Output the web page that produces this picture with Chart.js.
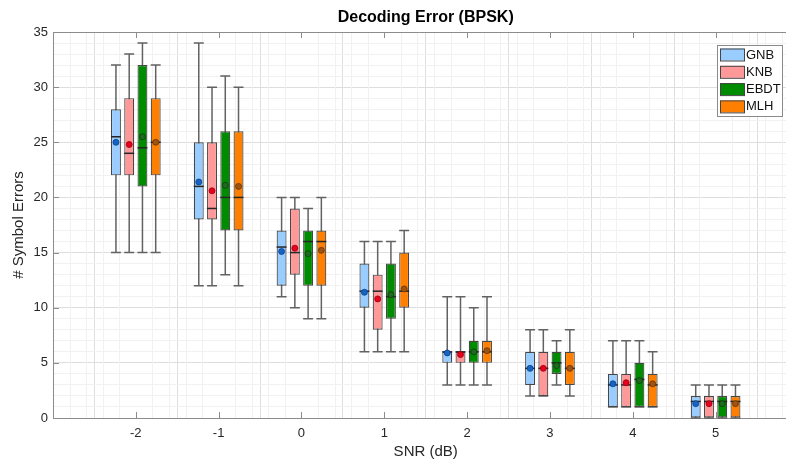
<!DOCTYPE html>
<html><head><meta charset="utf-8">
<script src="https://cdn.jsdelivr.net/npm/chart.js@4"></script>
<style>html,body{margin:0;padding:0;background:#fff;overflow:hidden}#wrap{width:786px;height:465px;position:relative}</style>
</head><body><div id="wrap"><canvas id="c" width="786" height="465"></canvas></div>
<script>
// ---- data ----
const snr = [-2, -1, 0, 1, 2, 3, 4, 5];
const seriesNames = ['GNB', 'KNB', 'EBDT', 'MLH'];

const gnbLow    = [15, 12, 11, 6, 3, 2, 1, 0];
const gnbQ1     = [22, 18, 12, 10, 5, 3, 1, 0];
const gnbMedian = [25.5, 21, 15.5, 11.5, 6, 4.5, 3, 1.5];
const gnbQ3     = [28, 25, 17, 14, 6, 6, 4, 2];
const gnbHigh   = [32, 34, 20, 16, 11, 8, 7, 3];
const gnbMean   = [25.0, 21.4, 15.1, 11.4, 5.9, 4.5, 3.1, 1.3];

const knbLow    = [15, 12, 10, 6, 3, 2, 1, 0];
const knbQ1     = [22, 18, 13, 8, 5, 2, 1, 0];
const knbMedian = [24, 19, 15, 11.5, 6, 4.5, 3, 1.5];
const knbQ3     = [29, 25, 19, 13, 6, 6, 4, 2];
const knbHigh   = [33, 30, 20, 16, 11, 8, 7, 3];
const knbMean   = [24.8, 20.6, 15.4, 10.8, 5.75, 4.5, 3.2, 1.3];

const ebdtLow    = [15, 13, 9, 6, 3, 3, 1, 0];
const ebdtQ1     = [21, 17, 12, 9, 5, 4, 1, 0];
const ebdtMedian = [24.5, 20, 16, 11, 6, 5, 3.5, 1.5];
const ebdtQ3     = [32, 26, 17, 14, 7, 6, 5, 2];
const ebdtHigh   = [34, 31, 19, 16, 10, 7, 7, 3];
const ebdtMean   = [25.5, 21.1, 14.9, 11.2, 6.0, 4.75, 3.4, 1.3];

const mlhLow    = [15, 12, 9, 6, 3, 2, 1, 0];
const mlhQ1     = [22, 17, 12, 10, 5, 3, 1, 0];
const mlhMedian = [25, 20, 16, 11.5, 6, 4.5, 3, 1.5];
const mlhQ3     = [29, 26, 17, 15, 7, 6, 4, 2];
const mlhHigh   = [32, 30, 20, 17, 11, 8, 6, 3];
const mlhMean   = [25.0, 21.0, 15.2, 11.7, 6.1, 4.5, 3.1, 1.3];

const xTickLabels = [-2, -1, 0, 1, 2, 3, 4, 5];
const yTickLabels = [0, 5, 10, 15, 20, 25, 30, 35];
const xMin = -3, xMaxVisible = 5.85, xMaxFull = 6;
const yMin = 0, yMax = 35;
const xMinorStep = 0.2;

// ---- styles ----
const fills = ['#99ccff', '#ff9999', '#008c00', '#ff8000'];
const meanFill = ['#1464c8', '#e8001c', '#1d6b1d', '#a0520f'];
const meanEdge = ['#0b3f85', '#9a0010', '#0c3d0c', '#6a3306'];
const FONT = '"Liberation Sans", Arial, Helvetica, sans-serif';

const lows = [gnbLow, knbLow, ebdtLow, mlhLow];
const q1s = [gnbQ1, knbQ1, ebdtQ1, mlhQ1];
const meds = [gnbMedian, knbMedian, ebdtMedian, mlhMedian];
const q3s = [gnbQ3, knbQ3, ebdtQ3, mlhQ3];
const highs = [gnbHigh, knbHigh, ebdtHigh, mlhHigh];
const means = [gnbMean, knbMean, ebdtMean, mlhMean];

const isInt = v => Math.abs(v - Math.round(v)) < 1e-6;
const MAJOR = '#dedede', MINOR = '#f1f1f1';

const boxPlugin = {
  id: 'boxExtras',
  beforeDatasetsDraw(chart) {
    const { ctx, chartArea: a, scales: { x, y } } = chart;
    ctx.save();
    ctx.strokeStyle = MINOR;
    ctx.lineWidth = 1;
    ctx.beginPath();
    const n = Math.floor((xMaxVisible - xMin) / xMinorStep + 1e-6);
    for (let k = 1; k <= n; k++) {
      const v = xMin + k * xMinorStep;
      if (isInt(v)) continue;
      const px = Math.round(x.getPixelForValue(v)) + 0.5;
      ctx.moveTo(px, a.top); ctx.lineTo(px, a.bottom);
    }
    ctx.stroke();
    ctx.strokeStyle = '#626262';
    ctx.lineWidth = 1.5;
    chart.data.datasets.forEach((ds, i) => {
      const meta = chart.getDatasetMeta(i);
      meta.data.forEach((bar, j) => {
        const lo = y.getPixelForValue(lows[i][j]);
        const hi = y.getPixelForValue(highs[i][j]);
        const cx = bar.x, w = bar.width;
        ctx.beginPath();
        ctx.moveTo(cx, lo); ctx.lineTo(cx, hi);
        ctx.moveTo(cx - w / 2, lo); ctx.lineTo(cx + w / 2, lo);
        ctx.moveTo(cx - w / 2, hi); ctx.lineTo(cx + w / 2, hi);
        ctx.stroke();
      });
    });
    ctx.restore();
  },
  afterDatasetsDraw(chart) {
    const { ctx, scales: { y } } = chart;
    ctx.save();
    chart.data.datasets.forEach((ds, i) => {
      const meta = chart.getDatasetMeta(i);
      meta.data.forEach((bar, j) => {
        const cx = bar.x, w = bar.width;
        const my = y.getPixelForValue(meds[i][j]);
        ctx.strokeStyle = '#262626';
        ctx.lineWidth = 1.5;
        ctx.beginPath();
        ctx.moveTo(cx - w / 2, my); ctx.lineTo(cx + w / 2, my);
        ctx.stroke();
        const mny = y.getPixelForValue(means[i][j]);
        ctx.beginPath();
        ctx.arc(cx, mny, 3, 0, Math.PI * 2);
        ctx.fillStyle = meanFill[i];
        ctx.fill();
        ctx.strokeStyle = meanEdge[i];
        ctx.lineWidth = 0.8;
        ctx.stroke();
      });
    });
    ctx.restore();
  },
  afterDraw(chart) {
    const { ctx, chartArea: a, scales: { x, y } } = chart;
    ctx.save();
    ctx.strokeStyle = '#8c8c8c';
    ctx.lineWidth = 1;
    ctx.beginPath();
    ctx.moveTo(a.left, a.top + 0.5); ctx.lineTo(a.right, a.top + 0.5);
    ctx.stroke();
    ctx.beginPath();
    xTickLabels.forEach(v => {
      const px = Math.round(x.getPixelForValue(v)) + 0.5;
      ctx.moveTo(px, a.bottom); ctx.lineTo(px, a.bottom - 6);
      ctx.moveTo(px, a.top); ctx.lineTo(px, a.top + 6);
    });
    yTickLabels.forEach(v => {
      const py = Math.round(y.getPixelForValue(v)) + 0.5;
      ctx.moveTo(a.left, py); ctx.lineTo(a.left + 6, py);
    });
    ctx.stroke();
    const cxFull = (x.getPixelForValue(xMin) + x.getPixelForValue(xMaxFull)) / 2;
    ctx.fillStyle = '#000';
    ctx.textAlign = 'center';
    ctx.textBaseline = 'middle';
    ctx.font = 'bold 16px ' + FONT;
    ctx.fillText('Decoding Error (BPSK)', cxFull, 18);
    ctx.fillStyle = '#262626';
    ctx.font = '15px ' + FONT;
    ctx.fillText('SNR (dB)', cxFull, 452);
    ctx.save();
    ctx.translate(19, (a.top + a.bottom) / 2);
    ctx.rotate(-Math.PI / 2);
    ctx.fillText('# Symbol Errors', 0, 0);
    ctx.restore();
    const lx = 717, ly = 45, lw = 65, lh = 71;
    ctx.fillStyle = '#fff';
    ctx.fillRect(lx, ly, lw, lh);
    ctx.strokeStyle = '#8a8a8a';
    ctx.lineWidth = 1;
    ctx.strokeRect(lx + 0.5, ly + 0.5, lw, lh);
    ctx.textAlign = 'left';
    ctx.font = '13px ' + FONT;
    chart.data.datasets.forEach((ds, i) => {
      const cy = 54.5 + i * 17.3;
      ctx.fillStyle = ds.backgroundColor;
      ctx.fillRect(720, cy - 6, 24, 12);
      ctx.strokeStyle = '#444';
      ctx.strokeRect(720.5, cy - 5.5, 24, 12);
      ctx.fillStyle = '#111';
      ctx.fillText(ds.label, 746, cy + 0.5);
    });
    ctx.restore();
  }
};

const datasets = seriesNames.map((name, i) => ({
  label: name,
  data: snr.map((s, j) => ({ x: s, y: [q1s[i][j], q3s[i][j]] })),
  backgroundColor: fills[i],
  borderColor: '#474747',
  borderWidth: 1.2,
  borderSkipped: false,
  categoryPercentage: 0.64,
  barPercentage: 0.75
}));

new Chart(document.getElementById('c'), {
  type: 'bar',
  data: { datasets },
  options: {
    responsive: false,
    animation: false,
    devicePixelRatio: 1,
    layout: { padding: { top: 32, right: 0, left: 0, bottom: 0 } },
    plugins: { legend: { display: false }, tooltip: { enabled: false }, title: { display: false } },
    scales: {
      x: {
        type: 'linear',
        min: xMin,
        max: xMaxVisible,
        offset: false,
        afterFit: s => { s.height = 47; },
        ticks: {
          stepSize: 1,
          includeBounds: false,
          autoSkip: false,
          maxRotation: 0,
          padding: 8,
          color: '#262626',
          font: { family: FONT, size: 13 },
          callback: v => xTickLabels.includes(v) ? String(v) : ''
        },
        grid: {
          drawTicks: false,
          color: MAJOR,
          lineWidth: 1
        },
        border: { color: '#8c8c8c', width: 1 }
      },
      y: {
        type: 'linear',
        min: yMin,
        max: yMax,
        afterFit: s => { s.width = 53; },
        ticks: {
          stepSize: 1,
          autoSkip: false,
          padding: 5,
          color: '#262626',
          font: { family: FONT, size: 13 },
          callback: v => yTickLabels.includes(v) ? String(v) : ''
        },
        grid: {
          drawTicks: false,
          color: c => (c.tick && Math.round(c.tick.value) % 5 !== 0) ? MINOR : MAJOR,
          lineWidth: 1
        },
        border: { color: '#8c8c8c', width: 1 }
      }
    }
  },
  plugins: [boxPlugin]
});
</script></body></html>
